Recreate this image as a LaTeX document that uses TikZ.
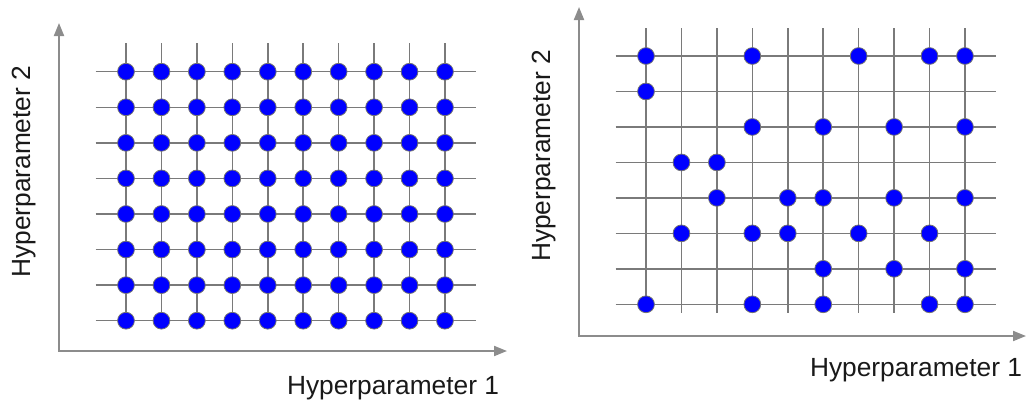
\documentclass[tikz,border=0pt]{standalone}
\usepackage{fontspec}
\setmainfont{Liberation Sans}
\usetikzlibrary{arrows.meta}

\tikzset{
    gridline/.style={draw=black!52, line width=1.5pt},
    axisline/.style={draw=black!45, line width=2pt,
        {Triangle[width=10pt,length=13pt]}-{Triangle[width=10pt,length=13pt]}},
    dot/.style={circle, fill=blue, draw=black!55, line width=0.8pt,
        minimum size=16.8pt, inner sep=0pt},
    axislabel/.style={font=\fontsize{26.3}{30}\selectfont, text=black!90,
        anchor=base, inner sep=0pt},
}

\begin{document}
\begin{tikzpicture}[x=1pt,y=-1pt]
    \useasboundingbox (0,0) rectangle (1027,405);

    % grid search (left)
    \begin{scope}[shift={(126,71.7)}]
        \foreach \i in {0,...,7}
            \draw[gridline] (-30.3,\i*35.57) -- (350,\i*35.57);
        \foreach \j in {0,...,9}
            \draw[gridline] (\j*35.44,-28.4) -- (\j*35.44,249);
        \foreach \j in {0,...,9}
            \foreach \i in {0,...,7}
                \node[dot] (L-\j-\i) at (\j*35.44,\i*35.57) {};
    \end{scope}

    % axes (left)
    \coordinate (L-o) at (59,351);
    \coordinate (L-x) at (507,351);
    \coordinate (L-y) at (59,23);
    \draw[axisline] (L-y) -- (L-o) -- (L-x);
    \node[axislabel] (L-xlab) at (393,394.5) {Hyperparameter 1};
    \node[axislabel, rotate=90] (L-ylab) at (30,171.7) {Hyperparameter 2};

    % random search (right)
    \begin{scope}[shift={(646,56)}]
        \foreach \i in {0,...,7}
            \draw[gridline] (-30.3,\i*35.47) -- (350,\i*35.47);
        \foreach \j in {0,...,9}
            \draw[gridline] (\j*35.44,-28) -- (\j*35.44,257);
        \foreach \c/\r in {0/0,3/0,6/0,8/0,9/0, 0/1, 3/2,5/2,7/2,9/2,
                           1/3,2/3, 2/4,4/4,5/4,7/4,9/4, 1/5,3/5,4/5,6/5,8/5,
                           5/6,7/6,9/6, 0/7,3/7,5/7,8/7,9/7}
            \node[dot] (R-\c-\r) at (\c*35.44,\r*35.47) {};
    \end{scope}

    % axes (right)
    \coordinate (R-o) at (579,336);
    \coordinate (R-x) at (1026,336);
    \coordinate (R-y) at (579,7);
    \draw[axisline] (R-y) -- (R-o) -- (R-x);
    \node[axislabel] (R-xlab) at (916,376) {Hyperparameter 1};
    \node[axislabel, rotate=90] (R-ylab) at (550.7,155.8) {Hyperparameter 2};
\end{tikzpicture}
\end{document}
